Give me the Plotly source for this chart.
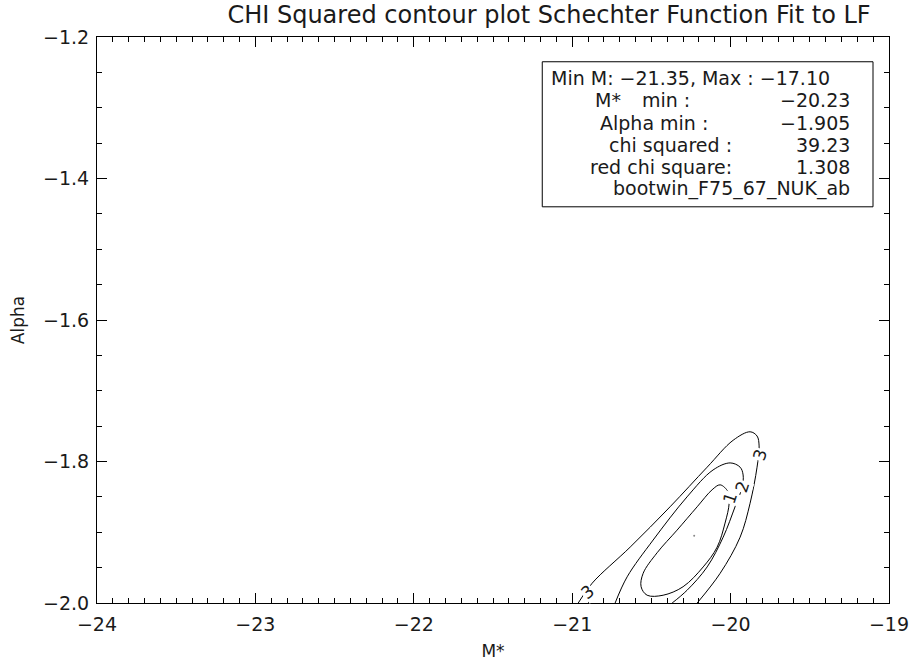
import plotly.graph_objects as go

# ---- data ----
c1_x = [-20.066, -20.016, -20.009, -20.035, -20.085, -20.173, -20.300, -20.426, -20.527, -20.565,
        -20.552, -20.464, -20.338, -20.211, -20.117, -20.066]
c1_y = [-1.833, -1.843, -1.859, -1.887, -1.921, -1.949, -1.977, -1.989, -1.989, -1.977,
        -1.958, -1.929, -1.897, -1.864, -1.840, -1.833]
c2_x = [-20.729, -20.653, -20.489, -20.275, -20.111, -20.003, -19.940, -19.921, -19.927, -19.972,
        -20.047, -20.148, -20.275, -20.369]
c2_y = [-2.000, -1.963, -1.911, -1.850, -1.812, -1.802, -1.808, -1.819, -1.836, -1.864,
        -1.907, -1.949, -1.982, -2.000]
c3_x = [-20.962, -20.874, -20.634, -20.382, -20.148, -19.984, -19.877, -19.833, -19.820, -19.833,
        -19.877, -19.940, -20.066, -20.211]
c3_y = [-2.000, -1.972, -1.921, -1.864, -1.808, -1.770, -1.758, -1.764, -1.778, -1.808,
        -1.859, -1.907, -1.958, -2.000]
min_m, min_alpha = -20.23, -1.905
label_text = ["3", "3", "2", "1"]
label_x = [-20.905, -19.814, -19.927, -20.003]
label_y = [-1.984, -1.791, -1.836, -1.852]
label_angle = [-40, -72, -72, -72]

info_first = "Min M: \u221221.35, Max : \u221217.10"
info_labels = ["M*", "Alpha min :", "chi squared :", "red chi square:"]
info_values = ["\u221220.23", "\u22121.905", "39.23", "1.308"]
info_name = "bootwin_F75_67_NUK_ab"

FONT = "DejaVu Sans"
TXT = "#1a1a1a"
BOXF = dict(size=19, color=TXT, family=FONT)
fig = go.Figure()
for cx, cy in [(c1_x, c1_y), (c2_x, c2_y), (c3_x, c3_y)]:
    fig.add_trace(go.Scatter(x=cx, y=cy, mode="lines", line=dict(color="black", width=1, shape="spline", smoothing=1.0),
                             hoverinfo="skip", showlegend=False))
fig.add_trace(go.Scatter(x=[min_m], y=[min_alpha], mode="markers", marker=dict(color="#888", size=2),
                         showlegend=False))

for t, x, y, a in zip(label_text, label_x, label_y, label_angle):
    fig.add_annotation(x=x, y=y, text=t, showarrow=False, textangle=a, bgcolor="white", borderpad=0,
                       font=dict(size=17, color=TXT, family=FONT))

# info box
fig.add_shape(type="rect", x0=-21.189, x1=-19.101, y0=-1.235, y1=-1.440, line=dict(color="black", width=1),
              fillcolor="white", layer="above")
ys = [-1.258, -1.289, -1.322, -1.353, -1.384, -1.414]
fig.add_annotation(x=-21.145, y=ys[0], text=info_first, xanchor="left", showarrow=False, font=BOXF)
lab_x = [-20.868, -20.836, -20.779, -20.899]
for t, x, y in zip(info_labels, lab_x, ys[1:5]):
    fig.add_annotation(x=x, y=y, text=t, xanchor="left", showarrow=False, font=BOXF)
fig.add_annotation(x=-20.57, y=ys[1], text="min :", xanchor="left", showarrow=False, font=BOXF)
for t, y in zip(info_values, ys[1:5]):
    fig.add_annotation(x=-19.234, y=y, text=t, xanchor="right", showarrow=False, font=BOXF)
fig.add_annotation(x=-19.234, y=ys[5], text=info_name, xanchor="right", showarrow=False, font=BOXF)

axis_common = dict(showgrid=False, zeroline=False, showline=True, linecolor="black", linewidth=1,
                   ticks="inside", ticklen=10, tickcolor="black", tickwidth=1, mirror="ticks",
                   automargin=False, tickfont=dict(size=19, color=TXT, family=FONT))
fig.update_xaxes(range=[-24, -19], dtick=1, tick0=-24,
                 minor=dict(dtick=0.1, ticklen=5, ticks="inside", tickcolor="black"),
                 title=dict(text="M*", font=dict(size=17, color=TXT, family=FONT), standoff=20),
                 ticklabelstandoff=4, **axis_common)
fig.update_yaxes(range=[-2.0, -1.2], dtick=0.2, tick0=-2.0, tickformat=".1f",
                 minor=dict(dtick=0.05, ticklen=5, ticks="inside", tickcolor="black"),
                 title=dict(text="Alpha", font=dict(size=17, color=TXT, family=FONT), standoff=14),
                 ticklabelstandoff=3, **axis_common)
fig.update_layout(width=914, height=661, margin=dict(l=96.5, r=25, t=37, b=58, autoexpand=False),
                  paper_bgcolor="white", plot_bgcolor="white",
                  title=dict(text="CHI Squared contour plot Schechter Function Fit to LF", x=0.6007, xanchor="center",
                             y=0.978, yanchor="middle", font=dict(size=24, color=TXT, family=FONT)))
fig.write_html("out.html")
